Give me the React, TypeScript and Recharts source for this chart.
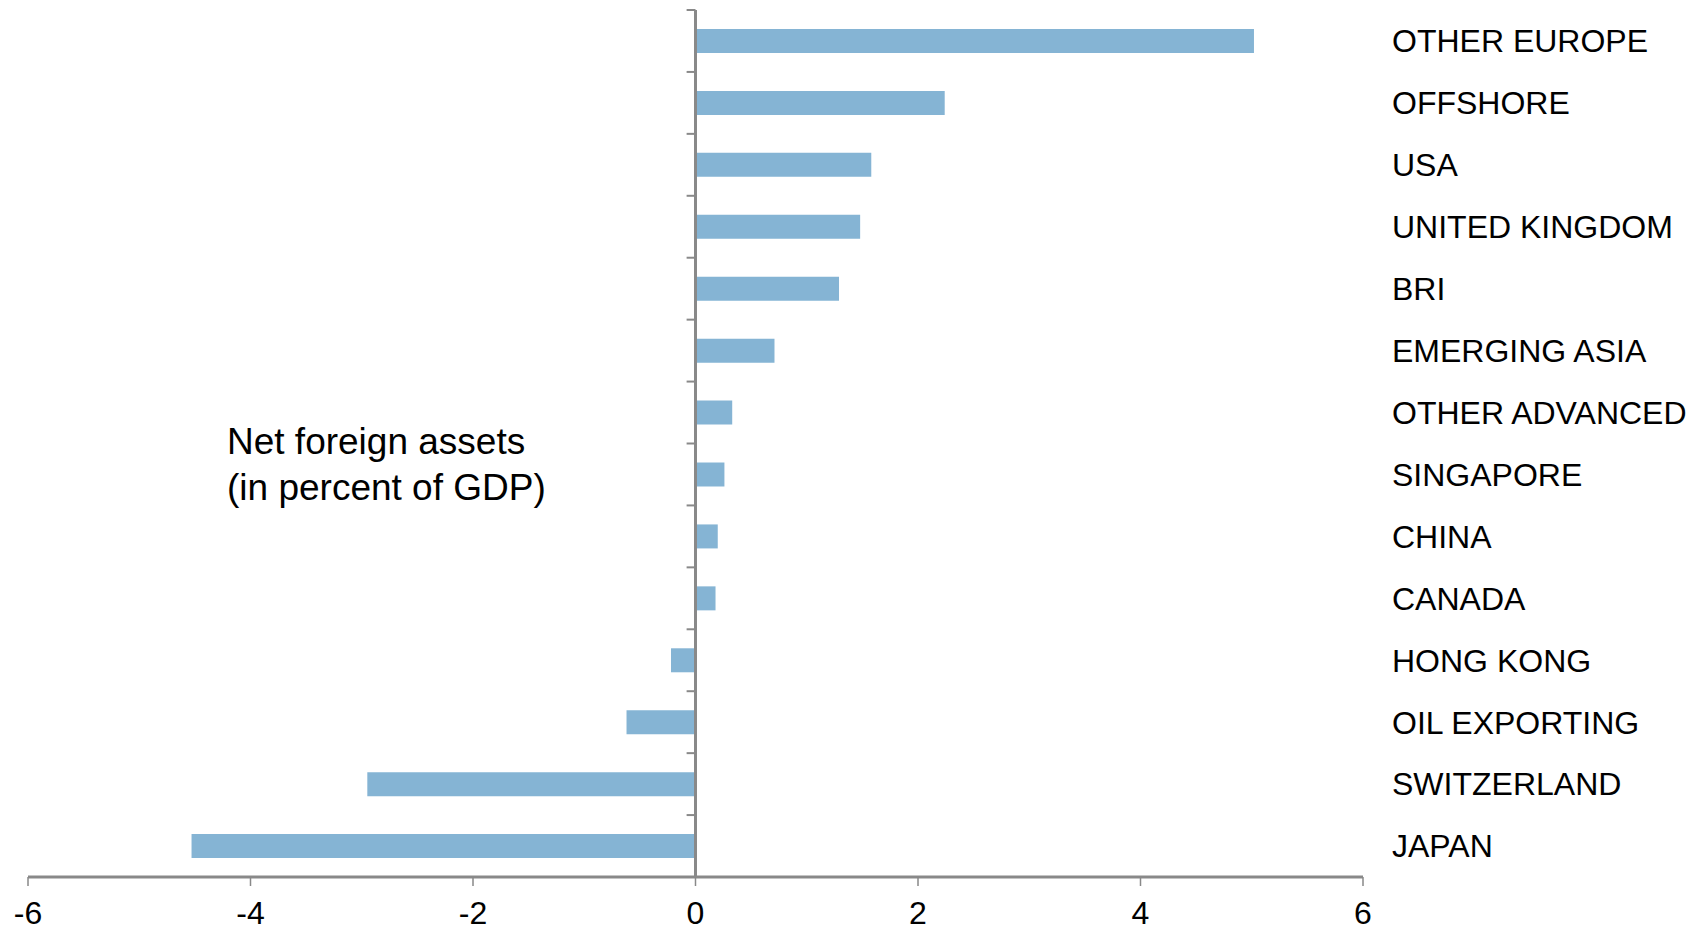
import { Bar, BarChart, ReferenceLine, XAxis, YAxis } from 'recharts'

const regions = [
    'OTHER EUROPE',
    'OFFSHORE',
    'USA',
    'UNITED KINGDOM',
    'BRI',
    'EMERGING ASIA',
    'OTHER ADVANCED',
    'SINGAPORE',
    'CHINA',
    'CANADA',
    'HONG KONG',
    'OIL EXPORTING',
    'SWITZERLAND',
    'JAPAN',
]
const netForeignAssets = [5.02, 2.24, 1.58, 1.48, 1.29, 0.71, 0.33, 0.26, 0.2, 0.18, -0.22, -0.62, -2.95, -4.53]
const xTicks = [-6, -4, -2, 0, 2, 4, 6]

const data = regions.map((name, i) => ({ name, value: netForeignAssets[i] }))

// a number axis on the category side runs over the row indexes [0, n - 1];
// the band edges sit at equal fractions of that span
const n = regions.length
const bandEdges = Array.from({ length: n + 1 }, (_, i) => (i * (n - 1)) / n)

const FONT = '"Liberation Sans", Arial, sans-serif'
const AXIS = '#898989'

export default function App() {
    return (
        <div style={{ position: 'absolute', left: 0, top: 0, width: 1701, height: 931, background: '#fff', fontFamily: FONT }}>
            <BarChart
                width={1701}
                height={931}
                data={data}
                layout="vertical"
                margin={{ top: 10, right: 0, left: 28, bottom: 0 }}
            >
                <XAxis
                    type="number"
                    domain={[-6, 6]}
                    ticks={xTicks}
                    height={54}
                    axisLine={{ stroke: AXIS, strokeWidth: 3 }}
                    tickLine={{ stroke: AXIS, strokeWidth: 1.5 }}
                    tickSize={9}
                    tickMargin={15}
                    tick={{ fill: '#000', fontSize: 32, fontFamily: FONT }}
                />
                <YAxis
                    type="category"
                    dataKey="name"
                    orientation="right"
                    width={338}
                    axisLine={false}
                    tickLine={false}
                    tickSize={0}
                    tickMargin={29}
                    interval={0}
                    tick={{ fill: '#000', fontSize: 32, fontFamily: FONT }}
                />
                <YAxis yAxisId="edges" type="number" hide />
                <Bar dataKey="value" fill="#85b4d4" barSize={24} isAnimationActive={false} />
                <ReferenceLine x={0} stroke={AXIS} strokeWidth={3} />
                {bandEdges.map((k) => (
                    <ReferenceLine
                        key={k}
                        yAxisId="edges"
                        segment={[
                            { x: -0.08, y: k },
                            { x: 0, y: k },
                        ]}
                        stroke={AXIS}
                        strokeWidth={2}
                        ifOverflow="visible"
                    />
                ))}
            </BarChart>
            <div
                style={{
                    position: 'absolute',
                    left: 227,
                    top: 419,
                    fontSize: 37,
                    lineHeight: '45.5px',
                    color: '#000',
                }}
            >
                Net foreign assets
                <br />
                (in percent of GDP)
            </div>
        </div>
    )
}
